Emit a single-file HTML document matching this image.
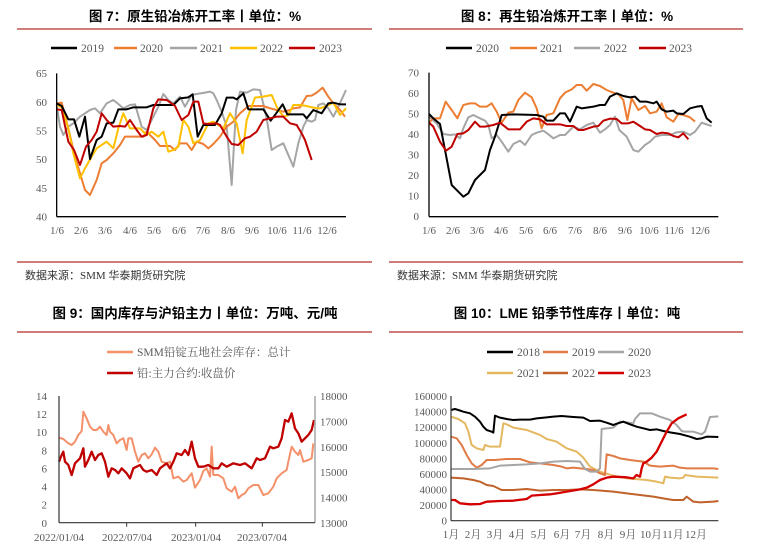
<!DOCTYPE html>
<html><head><meta charset="utf-8"><style>
body{margin:0;background:#fff;}
svg{display:block;}
.t{font-family:"Liberation Sans","Noto Sans CJK SC",sans-serif;font-weight:bold;font-size:13.5px;fill:#000;}
.k{font-family:"Liberation Serif","Noto Serif CJK SC",serif;font-size:11px;fill:#595959;}
.s{font-family:"Liberation Serif","Noto Sans CJK SC",serif;font-size:11px;fill:#333;}
.l{font-family:"Liberation Serif","Noto Serif CJK SC",serif;font-size:11.5px;fill:#595959;}
polyline,line{fill:none;vector-effect:non-scaling-stroke;stroke-linejoin:round;}
</style></head><body>
<svg width="760" height="544" viewBox="0 0 760 544" xmlns="http://www.w3.org/2000/svg">
<rect width="760" height="544" fill="#fff"/>
<!-- ========== Chart 7 ========== -->
<text class="t" x="195" y="21" text-anchor="middle">图 7：原生铅冶炼开工率丨单位：%</text>
<line x1="17" y1="29" x2="372" y2="29" stroke="#C0504D" stroke-width="1.5"/>
<line x1="17" y1="262" x2="372" y2="262" stroke="#C0504D" stroke-width="1.5"/>
<text class="s" x="25" y="279">数据来源：SMM 华泰期货研究院</text>
<g>
<line x1="51" y1="48" x2="77" y2="48" stroke="#000" stroke-width="2.5"/><text class="l" x="81" y="52">2019</text>
<line x1="114" y1="48" x2="137" y2="48" stroke="#ED7D31" stroke-width="2.5"/><text class="l" x="140" y="52">2020</text>
<line x1="170" y1="48" x2="197" y2="48" stroke="#A5A5A5" stroke-width="2.5"/><text class="l" x="200" y="52">2021</text>
<line x1="230" y1="48" x2="257" y2="48" stroke="#FFC000" stroke-width="2.5"/><text class="l" x="260" y="52">2022</text>
<line x1="289" y1="48" x2="315" y2="48" stroke="#C00000" stroke-width="2.5"/><text class="l" x="319" y="52">2023</text>
</g>
<g class="k" text-anchor="end">
<text x="47" y="77">65</text><text x="47" y="106">60</text><text x="47" y="134.5">55</text><text x="47" y="163">50</text><text x="47" y="192">45</text><text x="47" y="220.5">40</text>
</g>
<g class="k" text-anchor="middle">
<text x="57" y="234">1/6</text><text x="81" y="234">2/6</text><text x="105" y="234">3/6</text><text x="130" y="234">4/6</text><text x="154" y="234">5/6</text><text x="179" y="234">6/6</text><text x="203" y="234">7/6</text><text x="228" y="234">8/6</text><text x="252" y="234">9/6</text><text x="277" y="234">10/6</text><text x="302" y="234">11/6</text><text x="327" y="234">12/6</text>
</g>
<g transform="scale(0.33333)">
<polyline stroke="#A5A5A5" stroke-width="2" points="170,315 180,380 190,405 205,380 220,370 240,350 255,340 270,330 285,325 300,340 320,310 340,300 355,312 370,325 390,315 405,313 425,380 440,390 460,350 475,320 490,282 505,300 520,310 540,290 555,320 575,285 590,282 615,278 630,275 640,280 650,300 665,335 680,380 695,555 708,330 720,275 740,278 760,268 780,270 800,355 815,450 830,440 850,430 865,465 880,500 895,430 910,380 920,360 935,365 945,360 955,315 970,310 985,325 1000,350 1015,320 1038,270"/>
<polyline stroke="#ED7D31" stroke-width="2" points="170,310 185,308 205,385 225,470 240,520 255,570 270,585 290,540 305,490 320,480 340,460 360,435 375,410 430,410 440,395 465,420 480,438 510,438 525,450 540,430 560,430 575,450 590,425 610,432 625,445 640,432 660,410 680,380 700,365 720,340 745,318 790,318 810,325 830,330 850,335 870,330 880,325 900,322 920,288 935,287 950,278 968,263 985,290 1000,310 1020,330 1035,350"/>
<polyline stroke="#FFC000" stroke-width="2" points="170,315 185,322 205,385 220,460 240,535 255,505 275,470 290,445 305,435 320,425 340,445 355,385 370,340 390,385 420,385 440,405 455,395 475,410 490,395 505,455 520,450 535,440 550,360 565,380 580,430 600,420 625,370 640,365 655,375 670,385 690,340 710,370 728,460 740,360 765,293 790,290 815,285 830,320 850,350 865,345 880,315 900,315 920,318 940,323 960,325 980,318 1000,308 1020,345 1038,325"/>
<polyline stroke="#000" stroke-width="2" points="170,310 185,318 205,358 222,358 238,410 255,350 270,477 290,420 305,410 320,370 340,368 355,328 380,328 400,322 440,322 460,315 520,315 540,295 565,292 578,283 593,410 610,375 645,375 665,340 680,293 700,293 710,298 730,280 745,328 790,328 812,362 830,338 848,313 862,343 910,343 920,355 940,330 965,340 985,310 1000,308 1020,313 1038,313"/>
<polyline stroke="#C00000" stroke-width="2" points="170,328 185,330 205,425 222,450 240,495 258,440 275,420 290,395 305,340 320,360 340,380 360,378 375,380 390,360 410,390 425,410 440,405 460,325 475,298 500,300 525,318 545,360 565,345 580,305 595,305 610,370 625,372 650,370 660,375 680,410 695,432 715,435 735,415 750,410 770,395 790,360 810,355 830,350 850,350 870,370 890,375 905,400 915,420 935,480"/>
<line x1="170" y1="220" x2="170" y2="650" stroke="#000" stroke-width="1.3"/>
<line x1="170" y1="650" x2="1038" y2="650" stroke="#000" stroke-width="1.3"/>
</g>

<!-- ========== Chart 8 ========== -->
<text class="t" x="567" y="21" text-anchor="middle">图 8：再生铅冶炼开工率丨单位：%</text>
<line x1="389" y1="29" x2="743" y2="29" stroke="#C0504D" stroke-width="1.5"/>
<line x1="389" y1="262" x2="743" y2="262" stroke="#C0504D" stroke-width="1.5"/>
<text class="s" x="397" y="279">数据来源：SMM 华泰期货研究院</text>
<g>
<line x1="446" y1="48" x2="472" y2="48" stroke="#000" stroke-width="2.5"/><text class="l" x="476" y="52">2020</text>
<line x1="510" y1="48" x2="537" y2="48" stroke="#ED7D31" stroke-width="2.5"/><text class="l" x="540" y="52">2021</text>
<line x1="574" y1="48" x2="600" y2="48" stroke="#A5A5A5" stroke-width="2.5"/><text class="l" x="604" y="52">2022</text>
<line x1="639" y1="48" x2="666" y2="48" stroke="#C00000" stroke-width="2.5"/><text class="l" x="669" y="52">2023</text>
</g>
<g class="k" text-anchor="end">
<text x="419" y="76.5">70</text><text x="419" y="97">60</text><text x="419" y="117.5">50</text><text x="419" y="138">40</text><text x="419" y="158.5">30</text><text x="419" y="179">20</text><text x="419" y="199.5">10</text><text x="419" y="220">0</text>
</g>
<g class="k" text-anchor="middle">
<text x="429" y="234">1/6</text><text x="453" y="234">2/6</text><text x="477" y="234">3/6</text><text x="501" y="234">4/6</text><text x="526" y="234">5/6</text><text x="550" y="234">6/6</text><text x="575" y="234">7/6</text><text x="600" y="234">8/6</text><text x="625" y="234">9/6</text><text x="649" y="234">10/6</text><text x="674" y="234">11/6</text><text x="700" y="234">12/6</text>
</g>
<g transform="translate(380,0) scale(0.33333)">
<polyline stroke="#A5A5A5" stroke-width="2" points="147,350 170,370 190,402 210,405 225,403 240,415 250,385 265,352 280,345 300,355 315,362 325,375 335,415 350,405 365,425 385,455 400,432 420,422 435,435 455,405 470,398 490,392 505,403 520,415 540,405 555,405 570,390 580,380 600,388 620,375 640,368 660,398 675,388 690,375 705,350 718,390 740,410 760,450 775,455 795,435 810,425 825,410 845,405 870,405 890,397 910,395 930,405 945,395 965,368 985,375 995,378"/>
<polyline stroke="#ED7D31" stroke-width="2" points="147,368 160,355 180,355 197,305 215,330 232,355 250,315 270,310 285,310 300,320 320,320 335,310 350,335 365,368 385,338 400,335 415,300 435,278 455,292 470,325 485,385 500,345 520,340 540,295 555,278 575,268 590,255 605,255 620,272 640,252 660,258 680,270 700,278 715,283 730,300 742,360 755,295 775,330 795,318 810,340 830,335 845,310 860,352 880,365 895,342 910,345 930,352 945,365"/>
<polyline stroke="#000" stroke-width="2" points="147,342 160,355 180,372 195,450 215,555 235,575 250,590 265,580 285,540 300,525 315,510 330,450 345,410 365,345 400,343 470,345 490,350 500,362 520,362 540,340 555,340 570,365 590,320 605,325 640,320 660,315 675,315 690,290 710,280 730,288 750,292 765,290 780,305 800,305 820,310 830,305 845,328 860,335 880,332 890,340 910,342 930,325 950,320 965,318 980,355 995,368"/>
<polyline stroke="#C00000" stroke-width="2" points="147,368 160,380 180,425 198,452 215,440 232,402 250,400 265,390 285,365 300,380 315,380 340,375 360,368 385,388 420,388 440,365 460,355 480,358 500,373 540,373 560,378 580,378 595,390 610,390 625,385 640,380 655,378 670,362 690,356 710,357 725,370 745,370 760,365 780,378 795,388 810,390 830,402 845,398 865,400 880,408 895,412 910,400 925,418"/>
<line x1="147" y1="218" x2="147" y2="650" stroke="#000" stroke-width="1.3"/>
<line x1="147" y1="650" x2="1015" y2="650" stroke="#000" stroke-width="1.3"/>
</g>

<!-- ========== Chart 9 ========== -->
<text class="t" x="195" y="318" text-anchor="middle">图 9：国内库存与沪铅主力丨单位：万吨、元/吨</text>
<line x1="17" y1="332" x2="372" y2="332" stroke="#C0504D" stroke-width="1.5"/>
<line x1="107" y1="352" x2="133" y2="352" stroke="#F4916B" stroke-width="2.5"/><text class="l" x="137" y="356">SMM铅锭五地社会库存：总计</text>
<line x1="107" y1="373" x2="133" y2="373" stroke="#C00000" stroke-width="2.5"/><text class="l" x="137" y="377">铅:主力合约:收盘价</text>
<g class="k" text-anchor="end">
<text x="47" y="400">14</text><text x="47" y="418">12</text><text x="47" y="436">10</text><text x="47" y="454.5">8</text><text x="47" y="472.5">6</text><text x="47" y="490.5">4</text><text x="47" y="508.5">2</text><text x="47" y="527">0</text>
</g>
<g class="k" text-anchor="start">
<text x="320" y="400">18000</text><text x="320" y="425.5">17000</text><text x="320" y="451">16000</text><text x="320" y="476">15000</text><text x="320" y="501.5">14000</text><text x="320" y="527">13000</text>
</g>
<g class="k" text-anchor="middle">
<text x="59" y="541">2022/01/04</text><text x="127" y="541">2022/07/04</text><text x="196" y="541">2023/01/04</text><text x="262" y="541">2023/07/04</text>
</g>
<g transform="translate(0,295) scale(0.33333)">
<polyline stroke="#F4916B" stroke-width="2" points="177,428 190,432 205,445 215,450 225,440 235,420 245,408 250,350 260,370 270,395 280,405 290,405 300,395 310,410 320,420 325,390 330,410 340,420 350,445 360,435 370,430 380,465 385,430 395,430 405,470 415,500 425,480 435,475 445,490 455,478 465,458 475,470 485,500 500,505 510,500 520,550 535,545 550,560 560,555 575,535 585,578 600,555 610,528 620,520 630,545 635,455 640,540 655,540 670,550 680,580 695,590 705,575 715,610 725,600 735,595 745,580 760,570 775,570 790,600 805,595 820,575 830,550 845,535 860,525 865,500 875,455 885,470 895,480 900,465 910,500 925,495 935,490 940,445"/>
<polyline stroke="#C00000" stroke-width="2.3" points="177,500 185,480 190,470 195,500 205,510 215,540 225,505 240,490 250,460 255,515 265,495 275,470 285,495 295,480 305,475 315,500 325,545 335,520 345,525 355,535 365,520 380,535 390,550 400,520 420,510 430,525 440,530 455,525 470,540 480,520 500,505 510,520 520,500 530,475 545,480 555,465 565,480 575,440 585,490 595,515 610,515 625,510 640,520 655,520 665,505 680,515 700,505 720,510 735,505 755,520 770,490 780,495 795,490 810,455 820,460 835,455 845,430 855,375 865,380 875,355 885,400 895,415 905,440 915,430 925,420 935,405 942,375"/>
<line x1="177" y1="303" x2="177" y2="683" stroke="#333" stroke-width="1.2"/>
<line x1="945" y1="303" x2="945" y2="683" stroke="#A5A5A5" stroke-width="1.5"/>
<line x1="177" y1="683" x2="945" y2="683" stroke="#333" stroke-width="1.2"/>
<line x1="380" y1="683" x2="380" y2="695" stroke="#333" stroke-width="1"/>
<line x1="587" y1="683" x2="587" y2="695" stroke="#333" stroke-width="1"/>
<line x1="787" y1="683" x2="787" y2="695" stroke="#333" stroke-width="1"/>
</g>

<!-- ========== Chart 10 ========== -->
<text class="t" x="567" y="318" text-anchor="middle">图 10：LME 铅季节性库存丨单位：吨</text>
<line x1="389" y1="332" x2="743" y2="332" stroke="#C0504D" stroke-width="1.5"/>
<g>
<line x1="487" y1="352" x2="513" y2="352" stroke="#000" stroke-width="2.5"/><text class="l" x="517" y="356">2018</text>
<line x1="543" y1="352" x2="568" y2="352" stroke="#E07B45" stroke-width="2.5"/><text class="l" x="572" y="356">2019</text>
<line x1="598" y1="352" x2="624" y2="352" stroke="#A5A5A5" stroke-width="2.5"/><text class="l" x="628" y="356">2020</text>
<line x1="487" y1="373" x2="513" y2="373" stroke="#E4B860" stroke-width="2.5"/><text class="l" x="517" y="377">2021</text>
<line x1="543" y1="373" x2="568" y2="373" stroke="#C0622A" stroke-width="2.5"/><text class="l" x="572" y="377">2022</text>
<line x1="598" y1="373" x2="624" y2="373" stroke="#D40000" stroke-width="2.5"/><text class="l" x="628" y="377">2023</text>
</g>
<g class="k" text-anchor="end">
<text x="447" y="400">160000</text><text x="447" y="415.5">140000</text><text x="447" y="431">120000</text><text x="447" y="447">100000</text><text x="447" y="462.5">80000</text><text x="447" y="478">60000</text><text x="447" y="493.5">40000</text><text x="447" y="509">20000</text><text x="447" y="524.5">0</text>
</g>
<g class="k" text-anchor="middle">
<text x="451" y="538">1月</text><text x="473" y="538">2月</text><text x="495" y="538">3月</text><text x="517" y="538">4月</text><text x="539" y="538">5月</text><text x="562" y="538">6月</text><text x="583" y="538">7月</text><text x="606" y="538">8月</text><text x="628" y="538">9月</text><text x="651" y="538">10月</text><text x="673" y="538">11月</text><text x="696" y="538">12月</text>
</g>
<g transform="translate(380,295) scale(0.33333)">
<polyline stroke="#C0622A" stroke-width="2" points="213,548 250,550 280,555 300,560 320,570 340,573 365,585 400,585 440,582 480,587 520,585 560,585 600,583 640,585 700,590 740,595 780,600 820,605 860,612 880,615 910,615 920,605 940,620 960,622 1000,620 1015,618"/>
<polyline stroke="#E4B860" stroke-width="2" points="213,365 235,372 255,385 265,410 275,450 290,460 310,465 315,450 330,455 360,455 370,385 380,388 400,398 440,405 480,420 500,432 530,440 560,460 590,470 610,488 630,515 660,530 700,542 740,550 800,555 830,560 850,565 855,545 870,548 900,550 910,548 915,540 950,545 1015,548"/>
<polyline stroke="#E07B45" stroke-width="2" points="213,425 230,430 245,450 260,480 275,505 290,518 305,510 320,495 345,495 380,492 420,492 450,502 480,505 520,510 545,515 560,520 580,518 600,520 620,522 640,525 660,535 675,540 680,478 700,483 720,490 750,495 790,500 810,512 840,515 880,512 900,518 920,520 960,520 1000,520 1015,522"/>
<polyline stroke="#A5A5A5" stroke-width="2" points="213,522 280,522 330,520 360,512 400,510 440,508 480,505 520,500 560,498 600,500 615,522 630,530 650,530 660,520 665,402 680,400 700,398 720,380 740,382 760,385 765,372 780,355 800,355 815,355 840,365 870,375 890,390 905,408 915,410 940,410 965,418 975,410 990,366 1015,364"/>
<polyline stroke="#000" stroke-width="2" points="213,345 225,342 235,345 250,350 270,355 285,365 300,380 310,395 320,405 335,410 340,413 345,362 360,368 380,372 400,375 420,374 450,374 470,370 500,367 520,365 545,363 580,366 610,368 630,378 660,377 680,383 700,390 710,386 730,380 750,388 770,395 790,400 810,405 830,403 850,408 870,412 900,417 930,425 950,432 965,430 980,425 1015,426"/>
<polyline stroke="#D40000" stroke-width="2.3" points="213,615 225,615 240,625 270,628 300,627 320,620 360,618 400,617 440,612 455,602 480,600 510,598 530,595 560,590 600,583 620,578 640,568 660,555 680,548 700,545 740,547 760,550 770,540 780,545 785,520 790,505 800,500 815,488 830,470 845,440 860,410 875,385 895,370 920,358"/>
<line x1="213" y1="303" x2="213" y2="677" stroke="#333" stroke-width="1.2"/>
<line x1="213" y1="677" x2="1015" y2="677" stroke="#333" stroke-width="1.2"/>
</g>
</svg>
</body></html>
